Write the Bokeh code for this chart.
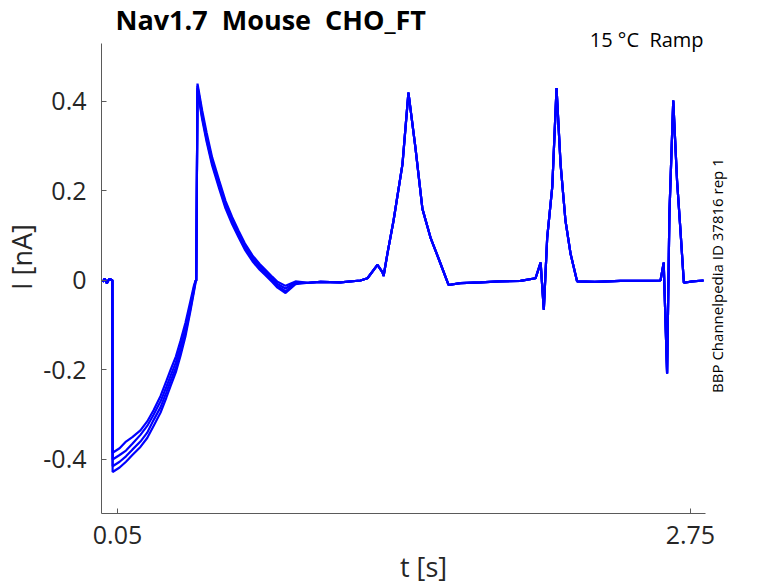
import numpy as np
from bokeh.plotting import figure
from bokeh.models import Range1d, Label, FixedTicker
from bokeh.embed import file_html
from bokeh.resources import INLINE

# ---- data (t in s, I in nA) ----
t_pre = [-0.02, -0.01, 0.0, 0.01, 0.02, 0.026]
i_pre = [-0.003, 0.004, -0.006, 0.003, 0.002, 0.0]

t_ramp = [0.027, 0.06, 0.09, 0.12, 0.158, 0.19, 0.22, 0.253, 0.28, 0.30, 0.325,
          0.347, 0.37, 0.394, 0.41, 0.418, 0.421, 0.427, 0.449, 0.47, 0.496,
          0.53, 0.559, 0.59, 0.62, 0.65, 0.686, 0.72, 0.747, 0.78, 0.804,
          0.842, 0.889]
i_rep1 = [-0.385, -0.375, -0.36, -0.35, -0.335, -0.315, -0.29, -0.258, -0.225,
          -0.20, -0.17, -0.135, -0.095, -0.045, -0.012, 0.0, 0.0, 0.44, 0.38,
          0.33, 0.275, 0.222, 0.178, 0.142, 0.112, 0.083, 0.056, 0.037, 0.024,
          0.008, -0.003, -0.012, -0.002]
i_rep2 = [-0.40, -0.39, -0.38, -0.365, -0.345, -0.325, -0.30, -0.27, -0.238,
          -0.213, -0.183, -0.148, -0.108, -0.055, -0.017, 0.0, 0.0, 0.435,
          0.372, 0.322, 0.268, 0.215, 0.172, 0.136, 0.106, 0.078, 0.051, 0.032,
          0.02, 0.004, -0.008, -0.018, -0.004]
i_rep3 = [-0.415, -0.405, -0.393, -0.378, -0.36, -0.34, -0.312, -0.283, -0.25,
          -0.225, -0.195, -0.16, -0.118, -0.062, -0.022, -0.002, 0.0, 0.43,
          0.365, 0.315, 0.262, 0.209, 0.166, 0.131, 0.101, 0.073, 0.047, 0.028,
          0.016, 0.0, -0.012, -0.024, -0.006]
i_rep4 = [-0.428, -0.418, -0.405, -0.39, -0.372, -0.352, -0.325, -0.295, -0.262,
          -0.236, -0.205, -0.168, -0.125, -0.067, -0.026, -0.004, 0.0, 0.425,
          0.36, 0.31, 0.257, 0.204, 0.161, 0.126, 0.097, 0.069, 0.043, 0.024,
          0.012, -0.004, -0.016, -0.028, -0.008]

t_post = [0.95, 1.007, 1.10, 1.195, 1.228, 1.275, 1.299, 1.304, 1.322, 1.351,
          1.393, 1.421, 1.454, 1.487, 1.525, 1.572, 1.610, 1.666, 1.761, 1.85,
          1.949, 2.020, 2.044, 2.059, 2.075, 2.099, 2.119, 2.138, 2.161, 2.185,
          2.216, 2.30, 2.420, 2.52, 2.609, 2.624, 2.640, 2.651, 2.669, 2.687,
          2.703, 2.719, 2.76, 2.812]
i_post = [-0.005, -0.003, -0.004, 0.0, 0.005, 0.035, 0.018, 0.01, 0.06, 0.134,
          0.26, 0.42, 0.297, 0.16, 0.096, 0.038, -0.01, -0.006, -0.004, -0.002,
          -0.001, 0.005, 0.04, -0.065, 0.096, 0.21, 0.43, 0.26, 0.134, 0.06,
          -0.002, -0.003, -0.001, -0.001, 0.0, 0.04, -0.208, 0.15, 0.402, 0.223,
          0.112, -0.005, -0.002, 0.0]

x_ticks = [0.05, 2.75]
y_ticks = [-0.4, -0.2, 0, 0.2, 0.4]
y_tick_labels = {-0.4: "-0.4", -0.2: "-0.2", 0: "0", 0.2: "0.2", 0.4: "0.4"}

NB = "\u00a0"
title_text = "Nav1.7 " + NB + "Mouse " + NB + "CHO_FT"
cond_text = "15 \u00b0C " + NB + "Ramp"
id_text = "BBP Channelpedia ID 37816 rep 1"

FONT = "Open Sans"
TXT = "#262626"
AX = "#5a5a5a"

X_AXIS_LIMITS = (-0.0254, 2.82)
Y_AXIS_LIMITS = (-0.5207, 0.5296)

p = figure(frame_width=644, frame_height=513, output_backend="svg",
           toolbar_location=None, x_range=Range1d(-0.0254, 3.0095),
           y_range=Range1d(-0.5207, 0.6257),
           min_border_left=101, min_border_right=15, min_border_top=0,
           min_border_bottom=62)
p.outline_line_color = None
p.xgrid.visible = False
p.ygrid.visible = False
p.background_fill_color = "white"

for reps in [i_rep1, i_rep2, i_rep3, i_rep4]:
    xs = t_pre + t_ramp + t_post
    ys = i_pre + reps + i_post
    p.line(xs, ys, line_color="#0000ff", line_width=2.2)

for ax in (p.xaxis[0], p.yaxis[0]):
    ax.axis_line_color = AX
    ax.major_tick_line_color = AX
    ax.major_tick_in = 5
    ax.major_tick_out = 0
    ax.minor_tick_line_color = None
    ax.major_label_text_font = FONT
    ax.major_label_text_font_size = "25px"
    ax.major_label_text_color = TXT
    ax.axis_label_text_font = FONT
    ax.axis_label_text_font_size = "27px"
    ax.axis_label_text_font_style = "normal"
    ax.axis_label_text_color = TXT

p.xaxis.bounds = X_AXIS_LIMITS
p.yaxis.bounds = Y_AXIS_LIMITS
p.xaxis.ticker = FixedTicker(ticks=x_ticks)
p.yaxis.ticker = FixedTicker(ticks=y_ticks)
p.yaxis.major_label_overrides = y_tick_labels
p.xaxis.axis_label = "t [s]"
p.yaxis.axis_label = "I [nA]"
p.xaxis.major_label_standoff = 12
p.yaxis.major_label_standoff = 15
p.xaxis.axis_label_standoff = 1
p.yaxis.axis_label_standoff = 0

p.add_layout(Label(x=0.0406, y=0.5833, text=title_text, text_font=FONT,
                   text_font_size="27px", text_font_style="bold",
                   text_color="black", text_baseline="alphabetic", text_align="left"))
p.add_layout(Label(x=2.812, y=0.5386, text=cond_text, text_font=FONT,
                   text_font_size="20px", text_color="black",
                   text_baseline="alphabetic", text_align="right"))
p.add_layout(Label(x=2.873, y=0.011, text=id_text, text_font=FONT,
                   text_font_size="15px", text_color="black", angle=np.pi / 2,
                   text_baseline="middle", text_align="center"))

open("out.html", "w").write(file_html(p, INLINE))
